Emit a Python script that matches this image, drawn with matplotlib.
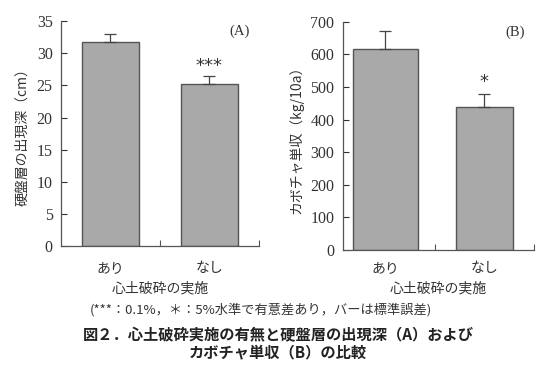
import numpy as np
import matplotlib
matplotlib.use("Agg")
import matplotlib.pyplot as plt
from matplotlib.transforms import blended_transform_factory

plt.rcParams['font.family'] = ['Liberation Serif', 'Noto Sans CJK JP']

# データ
categories = ["あり", "なし"]
depth = [31.7, 25.3]        # 硬盤層の出現深 (cm)
depth_se = [1.3, 1.2]
yield_kg = [617, 439]       # カボチャ単収 (kg/10a)
yield_se = [55, 40]
marks_a = ["", "***"]
marks_b = ["", "*"]

jp = ['Noto Sans CJK JP', 'DejaVu Sans']
bar_col = '#a9a9a9'
edge_col = '#555555'
H = 378.0

fig = plt.figure(figsize=(5.56, 3.78), dpi=100)
ax1 = fig.add_axes([0.1097, 0.349, 0.356, 0.595])
ax2 = fig.add_axes([0.6164, 0.3386, 0.344, 0.604])

def panel(ax, vals, errs, marks, ylim, yticks, ylabel, tag, xlim, widths, mark_off):
    x = np.arange(len(vals))
    ax.bar(x, vals, width=widths, color=bar_col, edgecolor=edge_col, linewidth=1.0, zorder=2)
    ax.errorbar(x, vals, yerr=[np.zeros(len(errs)), errs], fmt='none', ecolor='#444444',
                elinewidth=0.9, capsize=4, capthick=0.9, zorder=3)
    for xi, v, e, m in zip(x, vals, errs, marks):
        if m:
            ax.text(xi, v + e + mark_off, m, ha='center', va='center', fontsize=13,
                    family='DejaVu Sans', color='#333333')
    ax.set_xlim(*xlim)
    ax.set_ylim(*ylim)
    ax.set_yticks(yticks)
    ax.set_yticklabels([str(t) for t in yticks], family='Liberation Serif')
    ax.tick_params(axis='y', direction='in', length=4, labelsize=11.5, colors='#333333', pad=6)
    ax.set_xticks([0.5, 1.5])
    ax.set_xticklabels([])
    ax.tick_params(axis='x', direction='in', length=4, colors='#555555')
    tr = blended_transform_factory(ax.transData, fig.transFigure)
    for xi, c in zip(x, categories):
        ax.text(xi, 1 - 268 / H, c, transform=tr, ha='center', va='center',
                fontsize=10, family=jp, color='#333333')
    ax.text(0.5, 1 - 288 / H, "心土破砕の実施", transform=blended_transform_factory(ax.transAxes, fig.transFigure),
            ha='center', va='center', fontsize=10, family=jp, color='#333333')
    ax.set_ylabel(ylabel, fontsize=10, family=jp, color='#333333', labelpad=5)
    ax.text(0.9, 0.985, tag, transform=ax.transAxes, ha='center', va='top', fontsize=10.5,
            family='Liberation Serif', color='#333333')
    for s in ['top', 'right']:
        ax.spines[s].set_visible(False)
    for s in ['left', 'bottom']:
        ax.spines[s].set_color('#555555')
        ax.spines[s].set_linewidth(0.9)

panel(ax1, depth, depth_se, marks_a, (0, 35), range(0, 36, 5), "硬盤層の出現深（cm）", "(A)",
      (-0.5, 1.5), 0.57, 1.6)
panel(ax2, yield_kg, yield_se, marks_b, (0, 700), range(0, 701, 100), "カボチャ単収（kg/10a）", "(B)",
      (-0.43, 1.48), [0.65, 0.57], 35)

fig.text(0.47, 1 - 310 / H, "(***：0.1%，＊：5%水準で有意差あり，バーは標準誤差)", ha='center', va='center',
         fontsize=9.5, family=jp, color='#333333')
fig.text(0.5, 1 - 335 / H, "図２．心土破砕実施の有無と硬盤層の出現深（A）および", ha='center', va='center',
         fontsize=11, family=jp, weight='bold', color='#222222')
fig.text(0.5, 1 - 352 / H, "カボチャ単収（B）の比較", ha='center', va='center',
         fontsize=11, family=jp, weight='bold', color='#222222')

fig.savefig("out.png", dpi=100)
